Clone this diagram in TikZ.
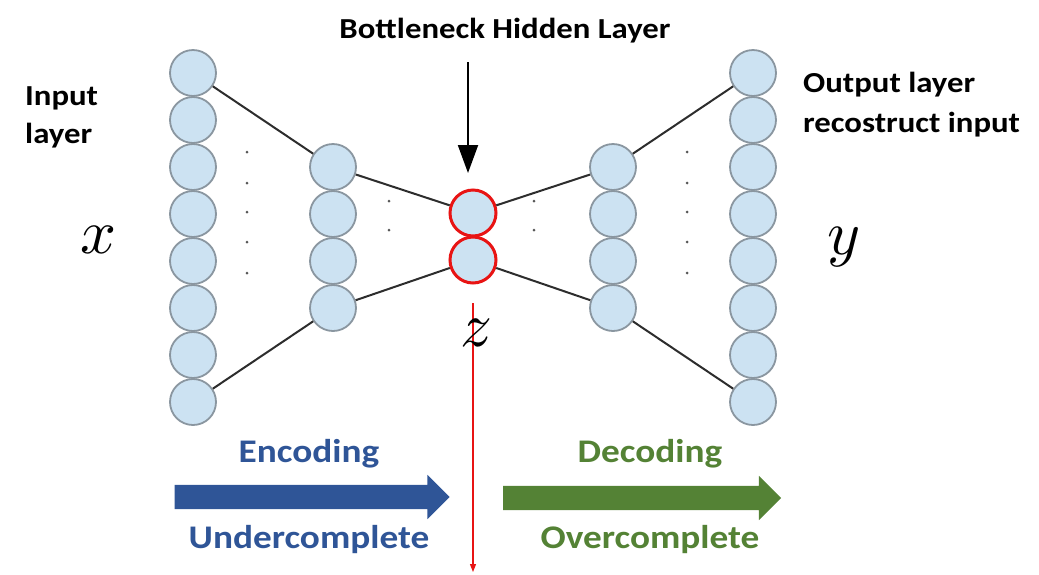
\documentclass[tikz,border=0pt]{standalone}
\usepackage{fontspec}
\usepackage{unicode-math}
\setmathfont{Latin Modern Math}
\newfontfamily\lblfont{Carlito}[FakeStretch=1.13]
\definecolor{aenode}{RGB}{204,226,242}
\definecolor{aeedge}{RGB}{138,150,160}
\definecolor{aered}{RGB}{232,20,20}
\definecolor{aeblue}{RGB}{47,85,151}
\definecolor{aegreen}{RGB}{84,130,53}
\definecolor{aeline}{RGB}{45,45,45}
\usetikzlibrary{arrows.meta,positioning,shapes.arrows}

\begin{document}
\begin{tikzpicture}[x=1pt,y=-1pt,
  neuron/.style={circle,draw=aeedge,line width=1.8pt,fill=aenode,minimum size=46pt,inner sep=0pt},
  bneuron/.style={neuron,draw=aered,line width=3pt},
  link/.style={draw=aeline,line width=2pt},
  blacklbl/.style={font=\lblfont\bfseries\fontsize{29}{38}\selectfont,inner sep=0pt},
  colorlbl/.style={font=\lblfont\bfseries\fontsize{33}{40}\selectfont,inner sep=0pt},
  var/.style={font=\fontsize{63}{63}\selectfont,inner sep=0pt},
  bigarrow/.style={single arrow,inner xsep=0pt,inner ysep=12pt,single arrow head extend=10pt}]
\useasboundingbox (0,0) rectangle (1039,574);
% layers
\foreach \i in {1,...,8}
  \node[neuron] (in\i) at (193,{73+47*(\i-1)}) {};
\foreach \i in {1,...,4}
  \node[neuron] (enc\i) at (333,{167+47*(\i-1)}) {};
\node[bneuron] (bn1) at (473,213) {};
\node[bneuron] (bn2) at (473,260) {};
\foreach \i in {1,...,4}
  \node[neuron] (dec\i) at (613,{167+47*(\i-1)}) {};
\foreach \i in {1,...,8}
  \node[neuron] (out\i) at (753,{73+47*(\i-1)}) {};
% connections
\draw[link] (in1) -- (enc1);
\draw[link] (in8) -- (enc4);
\draw[link] (enc1) -- (bn1);
\draw[link] (enc4) -- (bn2);
\draw[link] (bn1) -- (dec1);
\draw[link] (bn2) -- (dec4);
\draw[link] (dec1) -- (out1);
\draw[link] (dec4) -- (out8);
% dots
\foreach \yy in {152,183,212,242,273} {
  \fill[aeline!80] (247,\yy) circle (1.5);
  \fill[aeline!80] (687,\yy) circle (1.5);
}
\foreach \yy in {201,230} {
  \fill[aeline!80] (389,\yy) circle (1.5);
  \fill[aeline!80] (534,\yy) circle (1.5);
}
% labels
\node[blacklbl,anchor=base] (bnlbl) at (505,38) {Bottleneck Hidden Layer};
\coordinate (arrtop) at (468,62);
\coordinate (arrtip) at (468,173);
\draw[line width=2pt,-{Triangle[length=28pt,width=20pt]}] (arrtop) -- (arrtip);
\node[blacklbl,anchor=base west] (inlbl) at (25,105) {Input};
\node[blacklbl,anchor=base west] (inlbl2) at (25,143) {layer};
\node[blacklbl,anchor=base west] (outlbl) at (803,92) {Output layer};
\node[blacklbl,anchor=base west] (outlbl2) at (803,132) {recostruct input};
\node[var,anchor=base] (xvar) at (99,253) {$x$};
\node[var,anchor=base] (yvar) at (844,254) {$y$};
\coordinate (zstart) at (473,303);
\coordinate (zend) at (473,572);
\draw[aered,line width=1.2pt,-{Triangle[length=8pt,width=6pt]}] (zstart) -- (zend);
\node[var,anchor=base] (zvar) at (476,346) {$z$};
% encoding / decoding
\node[bigarrow,fill=aeblue,minimum height=275pt] (encarrow) at (306,497) {};
\node[bigarrow,fill=aegreen,minimum height=278pt] (decarrow) at (636,498) {};
\node[colorlbl,text=aeblue,anchor=base] (enclbl) at (309,462) {Encoding};
\node[colorlbl,text=aeblue,anchor=base] (underlbl) at (309,548) {Undercomplete};
\node[colorlbl,text=aegreen,anchor=base] (declbl) at (650,462) {Decoding};
\node[colorlbl,text=aegreen,anchor=base] (overlbl) at (650,548) {Overcomplete};
\end{tikzpicture}
\end{document}
